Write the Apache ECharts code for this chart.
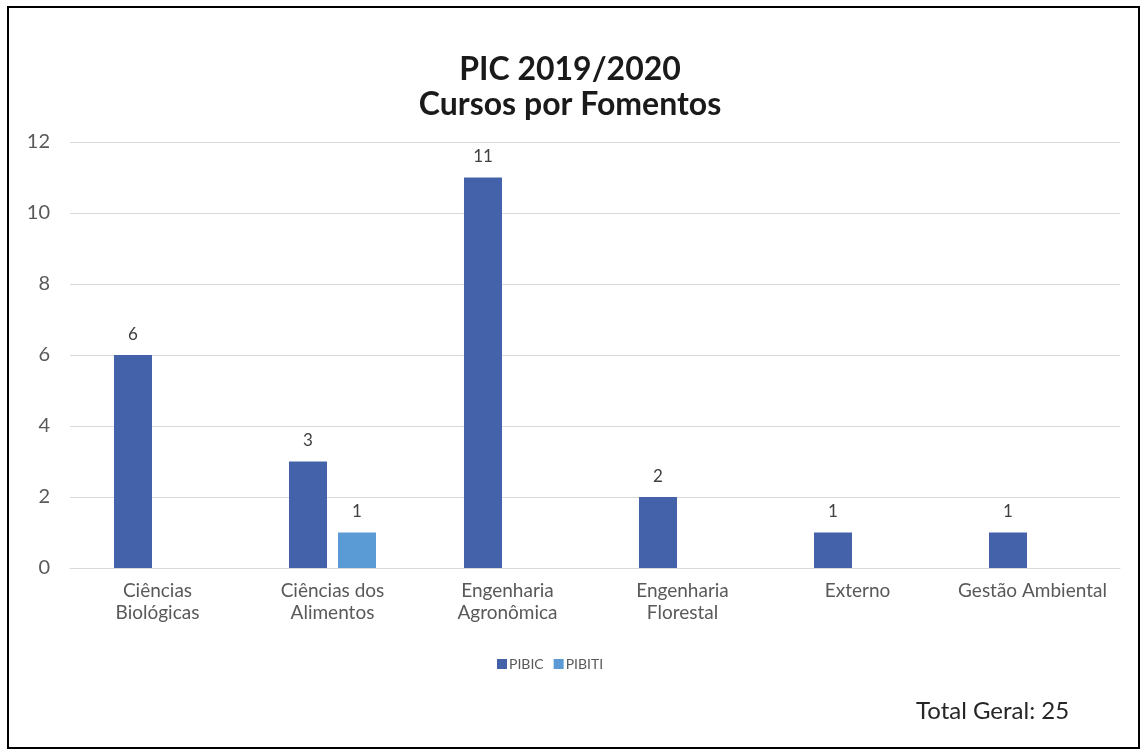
<!DOCTYPE html>
<html>
<head>
<meta charset="utf-8">
<script src="https://cdn.jsdelivr.net/npm/echarts@6/dist/echarts.min.js"></script>
<style>
html,body{margin:0;padding:0;background:#fff;}
#frame{position:absolute;left:7px;top:6px;right:0;bottom:0;border:2.5px solid #000;box-sizing:border-box;}
#chart{position:absolute;left:0;top:0;width:1140px;height:749px;}
</style>
</head>
<body>
<div id="chart"></div>
<div id="frame"></div>
<script>
const categories = ['Ciências\nBiológicas', 'Ciências dos\nAlimentos', 'Engenharia\nAgronômica', 'Engenharia\nFlorestal', 'Externo', 'Gestão Ambiental'];
const pibic = [6, 3, 11, 2, 1, 1];
const pibiti = [null, 1, null, null, null, null];
const seriesNames = ['PIBIC', 'PIBITI'];
const yTicks = {min: 0, max: 12, interval: 2};
const totalText = 'Total Geral: 25';

const chart = echarts.init(document.getElementById('chart'), null, {renderer: 'canvas'});
const font = 'Lato, "Open Sans", sans-serif';
const labelCfg = {show: true, position: 'top', color: '#404040', fontSize: 17, fontFamily: font, distance: 12};
chart.setOption({
  backgroundColor: '#fff',
  animation: false,
  title: [{
    text: 'PIC 2019/2020\nCursos por Fomentos',
    left: 'center', top: 47,
    textStyle: {fontFamily: font, fontWeight: 'bold', fontSize: 32, color: '#1a1a1a', lineHeight: 35}
  }, {
    text: totalText,
    left: 911, top: 694,
    textStyle: {fontFamily: font, fontWeight: 'normal', fontSize: 24, color: '#262626'}
  }],
  legend: {
    data: seriesNames, top: 652, left: 492,
    itemWidth: 10, itemHeight: 10, itemGap: 10, icon: 'rect',
    textStyle: {fontFamily: font, fontSize: 14, color: '#595959', padding: [0, 0, 0, -3]}
  },
  grid: {left: 70, right: 20, top: 142, bottom: 181},
  xAxis: {
    type: 'category', data: categories,
    axisLine: {lineStyle: {color: '#d9d9d9'}},
    axisTick: {show: false},
    axisLabel: {fontFamily: font, fontSize: 19, color: '#595959', margin: 12, lineHeight: 22, interval: 0}
  },
  yAxis: {
    type: 'value', min: yTicks.min, max: yTicks.max, interval: yTicks.interval,
    axisLine: {show: false}, axisTick: {show: false},
    splitLine: {lineStyle: {color: '#d9d9d9'}},
    axisLabel: {fontFamily: font, fontSize: 20, color: '#595959', margin: 20}
  },
  series: [{
    name: seriesNames[0], type: 'bar', data: pibic, barWidth: 38, barGap: '29%',
    itemStyle: {color: '#4462a9'}, label: labelCfg
  }, {
    name: seriesNames[1], type: 'bar', data: pibiti, barWidth: 38,
    itemStyle: {color: '#5b9bd5'}, label: labelCfg
  }]
});
</script>
</body>
</html>
